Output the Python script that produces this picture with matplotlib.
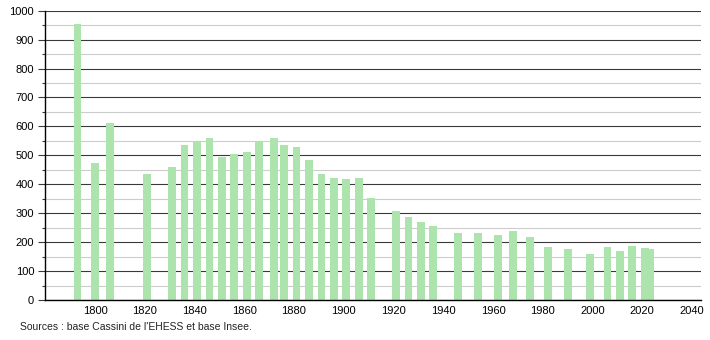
import matplotlib
matplotlib.use("Agg")
import matplotlib.pyplot as plt
from matplotlib.ticker import MultipleLocator

plt.rcParams['font.family'] = ['Liberation Sans', 'DejaVu Sans']

years = [1793, 1800, 1806, 1821, 1831, 1836, 1841, 1846, 1851, 1856, 1861, 1866,
         1872, 1876, 1881, 1886, 1891, 1896, 1901, 1906, 1911, 1921, 1926, 1931,
         1936, 1946, 1954, 1962, 1968, 1975, 1982, 1990, 1999, 2006, 2011, 2016,
         2021, 2023]
population = [953, 474, 612, 436, 460, 536, 548, 560, 494, 505, 512, 547,
              560, 536, 529, 484, 436, 422, 418, 422, 353, 308, 287, 270,
              256, 232, 232, 225, 239, 218, 183, 176, 159, 183, 170, 187,
              180, 177]
x_ticks = [1800, 1820, 1840, 1860, 1880, 1900, 1920, 1940, 1960, 1980, 2000, 2020, 2040]
y_ticks = [0, 100, 200, 300, 400, 500, 600, 700, 800, 900, 1000]
source = "Sources : base Cassini de l'EHESS et base Insee."

fig = plt.figure(figsize=(7.1, 3.4), dpi=100)
ax = fig.add_axes([45.25 / 710, 40 / 340, (701 - 45.25) / 710, (300 - 10.7) / 340])

ax.set_xlim(1780, 2043.6)
ax.set_ylim(0, 1000)

ax.yaxis.set_minor_locator(MultipleLocator(50))
ax.set_yticks(y_ticks)
ax.set_xticks(x_ticks)
ax.grid(which='major', axis='y', color='#3a3a3a', linewidth=0.8, zorder=0)
ax.grid(which='minor', axis='y', color='#cccccc', linewidth=0.8, zorder=0)
ax.set_axisbelow(True)

ax.bar(years, population, width=3.1, color='#ade3ad', zorder=2)

for s in ['top', 'right']:
    ax.spines[s].set_visible(False)
for s in ['left', 'bottom']:
    ax.spines[s].set_color('black')
    ax.spines[s].set_linewidth(1.0)

ax.tick_params(axis='y', which='major', length=5, width=0.8, color='#3a3a3a', labelsize=8, pad=3)
ax.tick_params(axis='y', which='minor', length=2, width=0.8, color='#3a3a3a')
ax.tick_params(axis='x', which='both', length=0, labelsize=8, pad=4)

fig.text(20 / 710, 1 - 327 / 340, source, fontsize=7.5, ha='left', va='center', color='#222222')

fig.savefig("out.png", dpi=100)
